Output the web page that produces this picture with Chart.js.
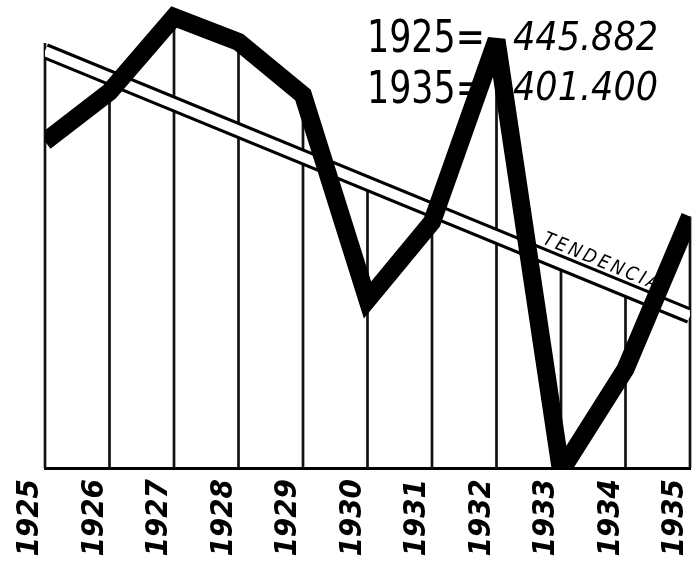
<!DOCTYPE html>
<html lang="es">
<head>
<meta charset="UTF-8">
<title>Tendencia 1925-1935</title>
<script src="https://cdn.jsdelivr.net/npm/chart.js"></script>
<style>
  body { margin: 0; background: #fff; }
</style>
</head>
<body>
<canvas id="tendChart" width="698" height="565"></canvas>
<script>
// yearly figures, thick black line
const years = ['1925', '1926', '1927', '1928', '1929', '1930', '1931', '1932', '1933', '1934', '1935'];
const values = [445.882, 475.4, 519.9, 505.1, 473.6, 351.8, 398.1, 506.2, 250.2, 310.8, 401.4];

// straight trend band, start and end
const trendYears = ['1925', '1935'];
const trendValues = [499.7, 342.3];

const yMin = 252;
const yMax = 530;
const trendLabel = 'TENDENCIA';

const trendPoints = trendYears.map((yr, i) => ({ x: yr, y: trendValues[i] }));

// helper: pixel y of the trend band at a given pixel x
function trendYAt(chart, px) {
    const meta = chart.getDatasetMeta(1);
    const a = meta.data[0], b = meta.data[1];
    return a.y + (b.y - a.y) * (px - a.x) / (b.x - a.x);
}

// narrow upright text: squeeze the condensed face a bit more
function narrowText(ctx, txt, x, y, sx) {
    ctx.save();
    ctx.translate(x, y);
    ctx.scale(sx, 1);
    ctx.fillText(txt, 0, 0);
    ctx.restore();
}

const decorPlugin = {
    id: 'decor',
    beforeDatasetsDraw(chart) {
        const ctx = chart.ctx;
        const xs = chart.scales.x, ys = chart.scales.y;
        ctx.save();

        // vertical year lines, up to whichever line is higher
        ctx.strokeStyle = '#111';
        ctx.lineWidth = 2.7;
        years.forEach((yr, i) => {
            const px = xs.getPixelForValue(i);
            const top = Math.min(ys.getPixelForValue(values[i]), trendYAt(chart, px) - 8);
            ctx.beginPath();
            ctx.moveTo(px, ys.bottom);
            ctx.lineTo(px, top);
            ctx.stroke();
        });

        // the two reference values, top right
        ctx.fillStyle = '#000';
        ctx.textAlign = 'left';
        ctx.textBaseline = 'alphabetic';
        ctx.font = '44px "DejaVu Sans Condensed", sans-serif';
        narrowText(ctx, years[0] + '=', 367, 52, 0.88);
        narrowText(ctx, years[years.length - 1] + '=', 367, 103, 0.88);
        ctx.font = 'italic 39px "DejaVu Sans Condensed", sans-serif';
        ctx.fillText(values[0].toFixed(3), 513, 50);
        ctx.fillText(values[values.length - 1].toFixed(3), 513, 100);

        // label sitting on top of the trend band
        const meta = chart.getDatasetMeta(1);
        const a = meta.data[0], b = meta.data[1];
        const ang = Math.atan2(b.y - a.y, b.x - a.x);
        const lx = 596;
        ctx.translate(lx, trendYAt(chart, lx));
        ctx.rotate(ang);
        ctx.font = 'italic 19px "DejaVu Sans Condensed", sans-serif';
        ctx.letterSpacing = '3px';
        ctx.textAlign = 'center';
        ctx.fillText(trendLabel, 0, -11);
        ctx.restore();

        // sharp corners, but bevel the very narrow peaks
        ctx.miterLimit = 2.5;
    }
};

new Chart(document.getElementById('tendChart'), {
    type: 'line',
    data: {
        labels: years,
        datasets: [
            {
                data: values,
                borderColor: '#000',
                borderWidth: 18,
                borderJoinStyle: 'miter',
                borderCapStyle: 'butt',
                tension: 0,
                pointRadius: 0,
                clip: { left: 0, right: 0, top: false, bottom: 0 }
            },
            {
                data: trendPoints,
                borderColor: '#fff',
                borderWidth: 10,
                borderCapStyle: 'butt',
                pointRadius: 0,
                clip: { left: 0, right: 0, top: false, bottom: 0 }
            },
            {
                data: trendPoints,
                borderColor: '#000',
                borderWidth: 16,
                borderCapStyle: 'butt',
                pointRadius: 0,
                clip: { left: 0, right: 0, top: false, bottom: 0 }
            }
        ]
    },
    options: {
        responsive: false,
        animation: false,
        events: [],
        layout: {
            autoPadding: false,
            padding: { left: 45, right: 8, top: 0, bottom: 0 }
        },
        plugins: {
            legend: { display: false },
            tooltip: { enabled: false }
        },
        scales: {
            x: {
                grid: { display: false, drawTicks: false },
                border: { display: true, color: '#000', width: 3 },
                ticks: {
                    color: '#000',
                    autoSkip: false,
                    minRotation: 90,
                    maxRotation: 90,
                    padding: 11,
                    labelOffset: -15,
                    font: { family: '"DejaVu Sans Condensed", sans-serif', size: 31, style: 'italic', weight: 'bold' }
                },
                afterFit(scale) {
                    scale.height = 97;
                    scale.paddingLeft = 0;
                    scale.paddingRight = 0;
                }
            },
            y: {
                display: false,
                min: yMin,
                max: yMax
            }
        }
    },
    plugins: [decorPlugin]
});
</script>
</body>
</html>
